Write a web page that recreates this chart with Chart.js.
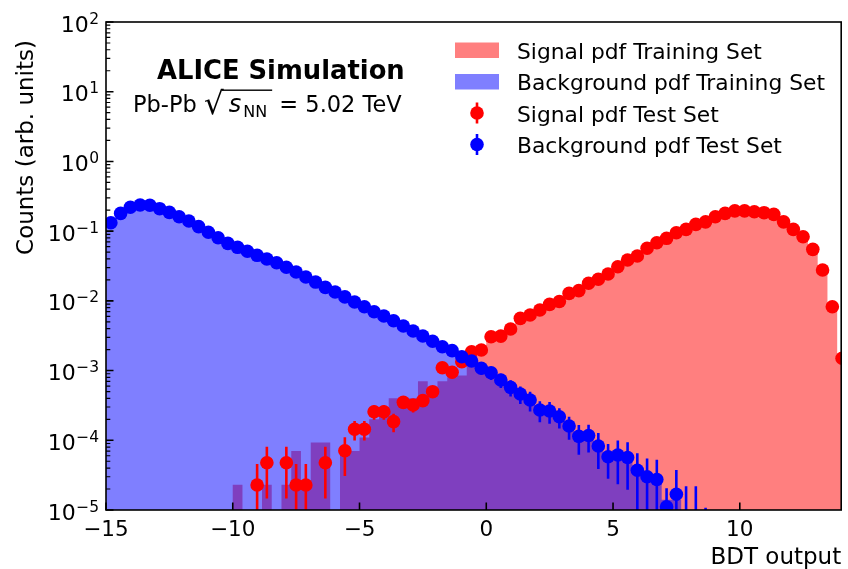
<!DOCTYPE html>
<html lang="en">
<head>
<meta charset="UTF-8">
<title>BDT output</title>
<script src="https://cdn.jsdelivr.net/npm/chart.js"></script>
<style>
    html, body { margin: 0; padding: 0; background: #fff; }
    canvas { display: block; }
</style>
</head>
<body>
<canvas id="bdtChart" width="848" height="569"></canvas>
<script>
    // bin centres of the BDT output histogram
    const bdtBins = [
        -14.808, -14.423, -14.039, -13.654, -13.270, -12.885, -12.500, -12.116, -11.731, -11.347,
        -10.962, -10.578, -10.193, -9.809, -9.424, -9.039, -8.655, -8.270, -7.886, -7.501,
        -7.117, -6.732, -6.348, -5.963, -5.578, -5.194, -4.809, -4.425, -4.040, -3.656,
        -3.271, -2.886, -2.502, -2.117, -1.733, -1.348, -0.964, -0.579, -0.195, 0.190,
        0.574, 0.959, 1.343, 1.728, 2.113, 2.497, 2.882, 3.266, 3.651, 4.035,
        4.420, 4.805, 5.189, 5.574, 5.958, 6.343, 6.727, 7.112, 7.497, 7.881,
        8.266, 8.650, 9.035, 9.419, 9.804, 10.188, 10.573, 10.958, 11.342, 11.727,
        12.111, 12.496, 12.880, 13.265, 13.650, 14.034
    ];

    // training set histograms (filled)
    const sigTrain = [
        0, 0, 0, 0, 0, 0, 0, 0, 0, 0,
        0, 0, 0, 2.3e-5, 0, 0, 2.3e-5, 0, 2.3e-5, 7.0e-5,
        2.3e-5, 9.3e-5, 9.3e-5, 0, 7.0e-5, 7.0e-5, 1.1e-4, 2.0e-4, 3.0e-4, 4.0e-4,
        4.0e-4, 4.0e-4, 7.0e-4, 5.6e-4, 7.0e-4, 8.0e-4, 8.5e-4, 1.75e-3, 2.1e-3, 2.7e-3,
        3.2e-3, 4.1e-3, 5.0e-3, 6.1e-3, 7.3e-3, 8.7e-3, 1.02e-2, 1.22e-2, 1.42e-2, 1.72e-2,
        2.02e-2, 2.45e-2, 3.0e-2, 3.7e-2, 4.4e-2, 5.5e-2, 6.7e-2, 7.8e-2, 9.3e-2, 0.106,
        0.122, 0.136, 0.158, 0.178, 0.193, 0.197, 0.192, 0.183, 0.170, 0.135,
        0.105, 0.082, 0.054, 0.028, 0.0087, 0.0015
    ];
    const bkgTrain = [
        0.130, 0.178, 0.218, 0.236, 0.234, 0.210, 0.186, 0.161, 0.139, 0.116,
        0.0960, 0.0805, 0.0670, 0.0585, 0.0512, 0.0450, 0.0398, 0.0350, 0.0302, 0.0258,
        0.0220, 0.0186, 0.0157, 0.0134, 0.0114, 0.00960, 0.00822, 0.00700, 0.00605, 0.00518,
        0.00437, 0.00370, 0.00312, 0.00264, 0.00221, 0.00190, 0.00158, 0.00136, 0.00110, 0.000920,
        0.000735, 0.000580, 0.000465, 0.000375, 0.000290, 0.000255, 0.000215, 0.000160, 0.000128, 0.000108,
        8.5e-5, 6.5e-5, 6.0e-5, 5.0e-5, 4.0e-5, 3.2e-5, 2.6e-5, 1.4e-5, 1.4e-5, 0,
        0, 0, 0, 0, 0, 0, 0, 0, 0, 0,
        0, 0, 0, 0, 0, 0
    ];

    // test set points with errors
    const sigTest = [
        0, 0, 0, 0, 0, 0, 0, 0, 0, 0,
        0, 0, 0, 0, 0, 2.28e-5, 4.76e-5, 0, 4.76e-5, 2.28e-5,
        2.28e-5, 0, 4.76e-5, 0, 7.08e-5, 1.44e-4, 1.44e-4, 2.57e-4, 2.57e-4, 1.85e-4,
        3.50e-4, 3.21e-4, 3.70e-4, 4.98e-4, 1.10e-3, 9.44e-4, 1.34e-3, 1.86e-3, 1.97e-3, 3.06e-3,
        3.12e-3, 3.94e-3, 5.61e-3, 6.27e-3, 7.40e-3, 8.9e-3, 9.8e-3, 0.0128, 0.0140, 0.0179,
        0.0204, 0.0243, 0.0309, 0.0385, 0.0440, 0.0568, 0.0683, 0.0789, 0.0949, 0.106,
        0.125, 0.136, 0.161, 0.180, 0.195, 0.195, 0.190, 0.184, 0.174, 0.136,
        0.106, 0.0832, 0.0548, 0.0277, 0.00824, 0.00150
    ];
    const sigTestErr = [
        0, 0, 0, 0, 0, 0, 0, 0, 0, 0,
        0, 0, 0, 0, 0, 2.3e-5, 3.3e-5, 0, 3.3e-5, 2.3e-5,
        2.3e-5, 0, 3.3e-5, 0, 4.0e-5, 4.5e-5, 4.5e-5, 6.0e-5, 6.0e-5, 5.5e-5,
        7e-5, 7e-5, 7e-5, 8e-5, 1.2e-4, 1.1e-4, 1.3e-4, 1.5e-4, 1.6e-4, 2.0e-4,
        2.0e-4, 2.2e-4, 2.7e-4, 2.8e-4, 3.0e-4, 3.3e-4, 3.5e-4, 4.0e-4, 4.2e-4, 4.7e-4,
        5e-4, 5.5e-4, 6e-4, 7e-4, 7.5e-4, 8.5e-4, 9.3e-4, 1e-3, 1.1e-3, 1.2e-3,
        1.3e-3, 1.3e-3, 1.4e-3, 1.5e-3, 1.6e-3, 1.6e-3, 1.5e-3, 1.5e-3, 1.5e-3, 1.3e-3,
        1.2e-3, 1e-3, 8.5e-4, 6e-4, 3.3e-4, 1.4e-4
    ];
    const bkgTest = [
        0.132, 0.180, 0.220, 0.237, 0.235, 0.210, 0.186, 0.161, 0.140, 0.116,
        0.0962, 0.0805, 0.0668, 0.0586, 0.0514, 0.0450, 0.0398, 0.0352, 0.0303, 0.0259,
        0.0220, 0.0186, 0.0156, 0.0134, 0.0114, 0.00962, 0.00824, 0.00698, 0.00607, 0.00519,
        0.00436, 0.00369, 0.00313, 0.00263, 0.00220, 0.00193, 0.00158, 0.00137, 0.00108, 0.000931,
        0.000731, 0.000575, 0.000461, 0.000378, 0.000272, 0.000263, 0.000218, 0.000160, 0.000114, 0.000117,
        8.28e-5, 5.81e-5, 6.15e-5, 5.66e-5, 3.71e-5, 3.00e-5, 2.74e-5, 1.11e-5, 1.68e-5, 7e-6,
        7e-6, 4e-6, 0, 0, 0, 0, 0, 0, 0, 0,
        0, 0, 0, 0, 0, 0
    ];
    const bkgTestErr = [
        0.003, 0.003, 0.004, 0.004, 0.004, 0.004, 0.003, 0.003, 0.003, 0.003,
        0.002, 0.002, 0.002, 0.002, 0.0018, 0.0016, 0.0015, 0.0014, 0.0013, 0.0012,
        0.0011, 0.001, 0.0009, 0.0008, 0.0008, 0.0007, 0.0006, 0.0006, 0.0005, 0.0005,
        0.00045, 0.0004, 0.00037, 0.00034, 0.0003, 0.00028, 0.00026, 0.00024, 0.0002, 0.0002,
        0.00017, 0.00015, 0.00013, 0.00012, 0.00009, 0.00009, 0.00007, 0.000058, 0.000052, 0.00005,
        0.000044, 0.00003, 0.000038, 0.000037, 0.000028, 0.000025, 0.000025, 0.0000094, 0.0000206, 0.000015,
        0.000015, 0.0000068, 0, 0, 0, 0, 0, 0, 0, 0,
        0, 0, 0, 0, 0, 0
    ];

    const xTicks = [-15, -10, -5, 0, 5, 10];
    const yDecades = [-5, -4, -3, -2, -1, 0, 1, 2];
    const legendLabels = ['Signal pdf Training Set', 'Background pdf Training Set', 'Signal pdf Test Set', 'Background pdf Test Set'];

    const RED = '#ff0000', BLUE = '#0000ff';
    const RED_FILL = 'rgba(255, 0, 0, 0.5)', BLUE_FILL = 'rgba(0, 0, 255, 0.5)';
    const FONT = '"DejaVu Sans", sans-serif';
    const MARKER_R = 6.8;

    // step outline (left bin edges) so the histogram is one filled shape
    function stepPoints(vals) {
        const pts = [];
        const n = bdtBins.length;
        for (let i = 0; i < n; i++) {
            const w = i < n - 1 ? bdtBins[i + 1] - bdtBins[i] : bdtBins[i] - bdtBins[i - 1];
            const y = vals[i] > 0 ? vals[i] : 1e-12;
            pts.push({ x: bdtBins[i] - w / 2, y: y });
            if (i === n - 1) pts.push({ x: bdtBins[i] + w / 2, y: y });
        }
        return pts;
    }
    function pointData(vals) {
        return bdtBins.map((x, i) => ({ x: x, y: vals[i] > 0 ? vals[i] : null }));
    }

    const errorBars = {
        id: 'errorBars',
        beforeDatasetDraw(chart, args) {
            const ds = chart.data.datasets[args.index];
            if (!ds.errors) return;
            const { ctx, chartArea: a, scales: { x, y } } = chart;
            ctx.save();
            ctx.beginPath();
            ctx.rect(a.left, a.top, a.right - a.left, a.bottom - a.top);
            ctx.clip();
            ctx.strokeStyle = ds.pointBackgroundColor;
            ctx.lineWidth = 2.6;
            ds.values.forEach((v, i) => {
                const e = ds.errors[i];
                if (!(e > 0)) return;
                const px = x.getPixelForValue(bdtBins[i]);
                const lo = v - e > 0 ? y.getPixelForValue(v - e) : a.bottom + 10;
                const hi = y.getPixelForValue(v + e);
                ctx.beginPath();
                ctx.moveTo(px, lo);
                ctx.lineTo(px, hi);
                ctx.stroke();
            });
            ctx.restore();
        }
    };

    // frame, inward ticks, labels, legend and the ALICE text
    const decorations = {
        id: 'decorations',
        afterDraw(chart) {
            const { ctx, chartArea: a, scales: { x, y } } = chart;
            ctx.save();
            ctx.fillStyle = '#000';
            ctx.strokeStyle = '#000';

            // ticks
            ctx.lineWidth = 1.6;
            ctx.beginPath();
            xTicks.forEach(t => {
                const px = x.getPixelForValue(t);
                ctx.moveTo(px, a.bottom);
                ctx.lineTo(px, a.bottom - 7.5);
            });
            yDecades.forEach(d => {
                const py = y.getPixelForValue(Math.pow(10, d));
                ctx.moveTo(a.left, py);
                ctx.lineTo(a.left + 7.5, py);
            });
            ctx.stroke();
            ctx.lineWidth = 1.2;
            ctx.beginPath();
            yDecades.slice(0, -1).forEach(d => {
                for (let m = 2; m <= 9; m++) {
                    const py = y.getPixelForValue(m * Math.pow(10, d));
                    ctx.moveTo(a.left, py);
                    ctx.lineTo(a.left + 4.3, py);
                }
            });
            ctx.stroke();

            // frame
            ctx.lineWidth = 1.6;
            ctx.strokeRect(a.left, a.top, a.right - a.left, a.bottom - a.top);

            // x tick labels
            ctx.font = '21.5px ' + FONT;
            ctx.textAlign = 'center';
            ctx.textBaseline = 'alphabetic';
            xTicks.forEach(t => {
                const label = t < 0 ? '\u2212' + Math.abs(t) : String(t);
                ctx.fillText(label, x.getPixelForValue(t), 536);
            });

            // y tick labels 10^n
            ctx.textAlign = 'left';
            yDecades.forEach(d => {
                const py = y.getPixelForValue(Math.pow(10, d));
                const sup = d < 0 ? '\u2212' + Math.abs(d) : String(d);
                ctx.font = '22px ' + FONT;
                const wBase = ctx.measureText('10').width;
                ctx.font = '15.5px ' + FONT;
                const wSup = ctx.measureText(sup).width;
                const x0 = a.left - 7.5 - wBase - wSup;
                ctx.font = '22px ' + FONT;
                ctx.fillText('10', x0, py + 9.5);
                ctx.font = '15.5px ' + FONT;
                ctx.fillText(sup, x0 + wBase + 0.5, py + 1.5);
            });

            // axis titles
            ctx.font = '23px ' + FONT;
            ctx.textAlign = 'right';
            ctx.fillText('BDT output', a.right, 563.5);
            ctx.save();
            ctx.translate(33, 147.5);
            ctx.rotate(-Math.PI / 2);
            ctx.textAlign = 'center';
            ctx.fillText('Counts (arb. units)', 0, 0);
            ctx.restore();

            // ALICE text
            ctx.textAlign = 'left';
            ctx.font = 'bold 25.8px ' + FONT;
            ctx.fillText('ALICE Simulation', 157, 79);
            ctx.font = '22.5px ' + FONT;
            let tx = 133;
            ctx.fillText('Pb-Pb ', tx, 111.7);
            tx += ctx.measureText('Pb-Pb ').width;
            ctx.font = '31px ' + FONT;
            ctx.fillText('\u221a', tx, 113.6);
            tx += ctx.measureText('\u221a').width;
            const rootStart = tx - 2;
            ctx.font = 'italic 24px ' + FONT;
            ctx.fillText('s', tx + 5, 111.7);
            tx += ctx.measureText('s').width + 7;
            ctx.font = '16px ' + FONT;
            ctx.fillText('NN', tx, 116.7);
            tx += ctx.measureText('NN').width + 5;
            ctx.fillRect(rootStart, 89.5, tx - rootStart, 1.4);
            ctx.font = '22.5px ' + FONT;
            ctx.fillText(' = 5.02 TeV', tx, 111.7);

            // legend
            const rows = [58.5, 90, 121.5, 153];
            ctx.font = '21.8px ' + FONT;
            legendLabels.forEach((lab, i) => ctx.fillText(lab, 517, rows[i]));
            ctx.fillStyle = RED_FILL;
            ctx.fillRect(455, rows[0] - 16, 44, 15.5);
            ctx.fillStyle = BLUE_FILL;
            ctx.fillRect(455, rows[1] - 16, 44, 15.5);
            [[RED, rows[2]], [BLUE, rows[3]]].forEach(([c, ry]) => {
                const cy = ry - 8.5;
                ctx.strokeStyle = c;
                ctx.fillStyle = c;
                ctx.lineWidth = 2.6;
                ctx.beginPath();
                ctx.moveTo(477, cy - 10.5);
                ctx.lineTo(477, cy + 10.5);
                ctx.stroke();
                ctx.beginPath();
                ctx.arc(477, cy, MARKER_R, 0, Math.PI * 2);
                ctx.fill();
            });
            ctx.restore();
        }
    };

    new Chart(document.getElementById('bdtChart'), {
        type: 'line',
        data: {
            datasets: [
                {
                    label: 'Background pdf Test Set', type: 'scatter', order: 0,
                    data: pointData(bkgTest), values: bkgTest, errors: bkgTestErr,
                    showLine: false, pointRadius: MARKER_R, pointBorderWidth: 0,
                    pointBackgroundColor: BLUE, pointBorderColor: BLUE
                },
                {
                    label: 'Signal pdf Test Set', type: 'scatter', order: 1,
                    data: pointData(sigTest), values: sigTest, errors: sigTestErr,
                    showLine: false, pointRadius: MARKER_R, pointBorderWidth: 0,
                    pointBackgroundColor: RED, pointBorderColor: RED
                },
                {
                    label: 'Background pdf Training Set', order: 2,
                    data: stepPoints(bkgTrain), stepped: 'before', fill: 'start',
                    borderWidth: 0, borderColor: 'rgba(0,0,0,0)', backgroundColor: BLUE_FILL,
                    pointRadius: 0
                },
                {
                    label: 'Signal pdf Training Set', order: 3,
                    data: stepPoints(sigTrain), stepped: 'before', fill: 'start',
                    borderWidth: 0, borderColor: 'rgba(0,0,0,0)', backgroundColor: RED_FILL,
                    pointRadius: 0
                }
            ]
        },
        options: {
            responsive: false,
            animation: false,
            layout: { padding: { left: 106, top: 22, right: 3, bottom: 59 } },
            scales: {
                x: { type: 'linear', min: -15, max: 14, display: false },
                y: { type: 'logarithmic', min: 1e-5, max: 100, display: false }
            },
            plugins: {
                legend: { display: false },
                tooltip: { enabled: false }
            }
        },
        plugins: [errorBars, decorations]
    });
</script>
</body>
</html>
